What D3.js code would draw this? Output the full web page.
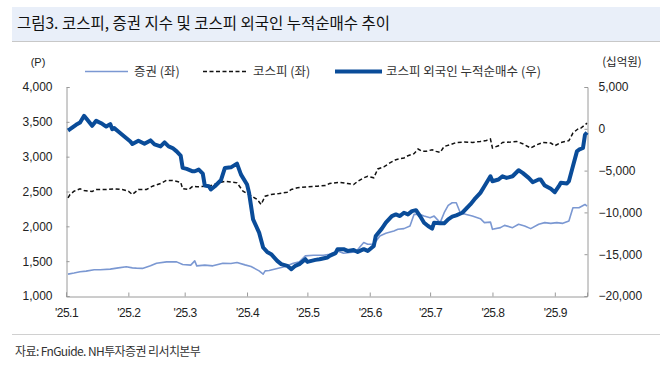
<!DOCTYPE html>
<html>
<head>
<meta charset="utf-8">
<script src="https://cdn.jsdelivr.net/npm/d3@7"></script>
<style>
  body { margin: 0; background: #fff; }
  svg { display: block; }
</style>
</head>
<body>
<svg id="chart" width="670" height="374"></svg>
<script>
// 데이터
const titleText = "그림3. 코스피, 증권 지수 및 코스피 외국인 누적순매수 추이";
const sourceText = "자료: FnGuide. NH투자증권 리서치본부";
const seriesNames = ["증권 (좌)", "코스피 (좌)", "코스피 외국인 누적순매수 (우)"];
const leftTicks = [1000, 1500, 2000, 2500, 3000, 3500, 4000];
const rightTicks = [-20000, -15000, -10000, -5000, 0, 5000];
const monthTicks = ["2025-01-01","2025-02-01","2025-03-01","2025-04-01","2025-05-01",
                    "2025-06-01","2025-07-01","2025-08-01","2025-09-01"];
const monthLabels = ["'25.1","'25.2","'25.3","'25.4","'25.5","'25.6","'25.7","'25.8","'25.9"];

// 증권 지수 (좌)
const secData = [
  ["2025-01-02",1314],["2025-01-05",1329],["2025-01-08",1347],["2025-01-11",1357],["2025-01-15",1376],
  ["2025-01-18",1376],["2025-01-23",1386],["2025-01-27",1404],["2025-01-31",1419],["2025-02-03",1404],
  ["2025-02-05",1400],["2025-02-08",1396],["2025-02-12",1433],["2025-02-15",1471],["2025-02-20",1490],
  ["2025-02-25",1490],["2025-02-28",1453],["2025-03-04",1443],["2025-03-06",1504],["2025-03-07",1433],
  ["2025-03-11",1443],["2025-03-15",1433],["2025-03-20",1471],["2025-03-24",1467],["2025-03-27",1481],
  ["2025-03-31",1447],["2025-04-03",1424],["2025-04-07",1361],["2025-04-09",1314],["2025-04-10",1361],
  ["2025-04-12",1367],["2025-04-16",1396],["2025-04-20",1424],["2025-04-24",1471],["2025-04-27",1490],
  ["2025-04-30",1576],["2025-05-04",1586],["2025-05-09",1586],["2025-05-12",1600],["2025-05-16",1647],
  ["2025-05-19",1614],["2025-05-22",1624],["2025-05-25",1633],["2025-05-29",1767],["2025-05-31",1743],
  ["2025-06-03",1743],["2025-06-06",1861],["2025-06-09",1900],["2025-06-13",1933],["2025-06-15",1957],
  ["2025-06-18",1967],["2025-06-21",2004],["2025-06-23",2171],["2025-06-26",2171],["2025-06-28",2147],
  ["2025-07-01",2124],["2025-07-03",2147],["2025-07-06",2053],["2025-07-08",2196],["2025-07-10",2300],
  ["2025-07-12",2339],["2025-07-14",2339],["2025-07-16",2196],["2025-07-19",2171],["2025-07-22",2147],
  ["2025-07-26",2110],["2025-07-28",2053],["2025-07-31",2061],["2025-08-01",1957],["2025-08-05",1981],
  ["2025-08-07",2014],["2025-08-11",1981],["2025-08-14",2029],["2025-08-17",2004],["2025-08-20",1967],
  ["2025-08-24",2029],["2025-08-27",2053],["2025-08-30",2043],["2025-09-02",2053],["2025-09-05",2043],
  ["2025-09-08",2076],["2025-09-10",2267],["2025-09-13",2267],["2025-09-16",2314],["2025-09-17",2290]
];

// 코스피 (좌)
const kospiData = [
  ["2025-01-02",2410],["2025-01-03",2457],["2025-01-05",2504],["2025-01-08",2539],["2025-01-10",2514],
  ["2025-01-14",2500],["2025-01-16",2529],["2025-01-21",2529],["2025-01-25",2539],["2025-01-29",2529],
  ["2025-02-01",2504],["2025-02-03",2457],["2025-02-06",2529],["2025-02-10",2529],["2025-02-13",2576],
  ["2025-02-17",2614],["2025-02-20",2661],["2025-02-23",2657],["2025-02-27",2633],["2025-02-28",2539],
  ["2025-03-03",2529],["2025-03-05",2576],["2025-03-07",2567],["2025-03-11",2576],["2025-03-14",2586],
  ["2025-03-19",2633],["2025-03-21",2647],["2025-03-25",2633],["2025-03-27",2624],["2025-03-30",2504],
  ["2025-04-02",2457],["2025-04-06",2386],["2025-04-08",2314],["2025-04-10",2433],["2025-04-13",2457],
  ["2025-04-17",2471],["2025-04-21",2490],["2025-04-23",2529],["2025-04-26",2553],["2025-05-01",2567],
  ["2025-05-06",2576],["2025-05-10",2586],["2025-05-12",2614],["2025-05-17",2633],["2025-05-21",2614],
  ["2025-05-24",2600],["2025-05-26",2647],["2025-05-29",2696],["2025-05-31",2719],["2025-06-03",2696],
  ["2025-06-05",2824],["2025-06-08",2853],["2025-06-11",2910],["2025-06-14",2957],["2025-06-18",2981],
  ["2025-06-20",3014],["2025-06-23",3043],["2025-06-25",3110],["2025-06-27",3076],["2025-06-29",3076],
  ["2025-07-02",3100],["2025-07-04",3076],["2025-07-06",3061],["2025-07-08",3147],["2025-07-11",3171],
  ["2025-07-14",3204],["2025-07-18",3210],["2025-07-22",3204],["2025-07-26",3219],["2025-07-29",3233],
  ["2025-07-31",3253],["2025-08-01",3124],["2025-08-04",3157],["2025-08-06",3204],["2025-08-10",3210],
  ["2025-08-13",3219],["2025-08-16",3186],["2025-08-20",3124],["2025-08-23",3171],["2025-08-26",3204],
  ["2025-08-30",3196],["2025-09-01",3157],["2025-09-04",3204],["2025-09-08",3229],["2025-09-10",3339],
  ["2025-09-13",3410],["2025-09-14",3410],["2025-09-16",3457],["2025-09-17",3481]
];

// 코스피 외국인 누적순매수 (우, 십억원)
const foreignData = [
  ["2025-01-02",-200],["2025-01-03",-40],["2025-01-06",480],["2025-01-08",750],["2025-01-10",1550],
  ["2025-01-11",1270],["2025-01-14",360],["2025-01-16",950],["2025-01-19",600],["2025-01-21",270],
  ["2025-01-23",560],["2025-01-24",-40],["2025-01-25",80],["2025-01-27",-320],["2025-01-30",-920],
  ["2025-02-02",-1510],["2025-02-03",-1820],["2025-02-06",-1430],["2025-02-09",-1790],["2025-02-12",-1390],
  ["2025-02-14",-1870],["2025-02-17",-2110],["2025-02-19",-1630],["2025-02-21",-2110],["2025-02-23",-2300],
  ["2025-02-25",-2700],["2025-02-27",-3210],["2025-02-28",-4680],["2025-03-02",-4800],["2025-03-05",-5080],
  ["2025-03-06",-5080],["2025-03-08",-4880],["2025-03-10",-5360],["2025-03-11",-6790],["2025-03-13",-6870],
  ["2025-03-14",-7260],["2025-03-16",-6870],["2025-03-19",-6160],["2025-03-21",-4680],["2025-03-24",-4610],
  ["2025-03-27",-4170],["2025-03-29",-5480],["2025-04-01",-6670],["2025-04-02",-7660],["2025-04-04",-10830],
  ["2025-04-07",-12420],["2025-04-09",-14200],["2025-04-11",-14730],["2025-04-13",-15000],["2025-04-16",-15800],
  ["2025-04-18",-16190],["2025-04-21",-16390],["2025-04-23",-16790],["2025-04-25",-16390],["2025-04-27",-16190],
  ["2025-04-30",-15600],["2025-05-01",-15920],["2025-05-05",-15680],["2025-05-07",-15600],["2025-05-11",-15390],
  ["2025-05-12",-15200],["2025-05-15",-14880],["2025-05-16",-14400],["2025-05-19",-14400],["2025-05-21",-14610],
  ["2025-05-24",-14490],["2025-05-26",-14730],["2025-05-29",-14400],["2025-05-31",-14610],["2025-06-03",-14010],
  ["2025-06-04",-12820],["2025-06-07",-11940],["2025-06-09",-11230],["2025-06-12",-10440],["2025-06-14",-10240],
  ["2025-06-16",-10440],["2025-06-18",-10040],["2025-06-20",-10240],["2025-06-22",-9850],["2025-06-24",-9730],
  ["2025-06-26",-10440],["2025-06-28",-11230],["2025-06-30",-11630],["2025-07-02",-11940],["2025-07-03",-11230],
  ["2025-07-06",-11310],["2025-07-08",-11310],["2025-07-10",-10830],["2025-07-12",-10510],["2025-07-14",-10360],
  ["2025-07-17",-10040],["2025-07-21",-9050],["2025-07-23",-8450],["2025-07-26",-7660],["2025-07-28",-6870],
  ["2025-07-31",-5680],["2025-08-01",-6270],["2025-08-04",-6070],["2025-08-06",-5680],["2025-08-08",-5870],
  ["2025-08-11",-5680],["2025-08-14",-4960],["2025-08-16",-5270],["2025-08-19",-5870],["2025-08-21",-6390],
  ["2025-08-24",-6070],["2025-08-25",-6070],["2025-08-27",-6790],["2025-08-30",-7180],["2025-09-01",-7580],
  ["2025-09-03",-6870],["2025-09-04",-6460],["2025-09-07",-6550],["2025-09-08",-6270],["2025-09-10",-4490],
  ["2025-09-12",-2700],["2025-09-13",-2500],["2025-09-15",-2300],["2025-09-16",-710],["2025-09-17",-440]
];

const parseDate = d3.timeParse("%Y-%m-%d");
const fontKR = "'Noto Sans CJK KR', sans-serif";
const fontNum = "'Liberation Sans', Arial, sans-serif";

const svg = d3.select("#chart");

// 제목 박스
svg.append("rect")
  .attr("x", 12).attr("y", 7)
  .attr("width", 648).attr("height", 34)
  .attr("fill", "#e9eff9");
svg.append("line")
  .attr("x1", 12).attr("x2", 660)
  .attr("y1", 41.5).attr("y2", 41.5)
  .attr("stroke", "#c8c8c8").attr("stroke-width", 1);
svg.append("text")
  .attr("x", 17).attr("y", 29)
  .attr("font-family", fontKR)
  .attr("font-size", 15.5)
  .attr("fill", "#111")
  .text(titleText);

// 스케일
const x = d3.scaleTime()
  .domain([parseDate("2025-01-01"), parseDate("2025-09-17")])
  .range([66, 587]);
const yL = d3.scaleLinear().domain([1000, 4000]).range([296, 87]);
const yR = d3.scaleLinear().domain([-20000, 5000]).range([296, 87]);

const axisColor = "#9a9a9a";

// 왼쪽 축
const gL = svg.append("g")
  .attr("transform", "translate(66.5,0)")
  .call(d3.axisLeft(yL).tickValues(leftTicks).tickSize(-3).tickPadding(14)
        .tickFormat(d3.format(",")));
gL.select(".domain").attr("stroke", axisColor);
gL.selectAll(".tick line").attr("stroke", axisColor);
gL.selectAll(".tick text")
  .attr("font-family", fontNum).attr("font-size", 12).attr("fill", "#222");

// 오른쪽 축
const gR = svg.append("g")
  .attr("transform", "translate(587.5,0)")
  .call(d3.axisRight(yR).tickValues(rightTicks).tickSize(-3).tickPadding(11)
        .tickFormat(d3.format(",")));
gR.select(".domain").attr("stroke", axisColor);
gR.selectAll(".tick line").attr("stroke", axisColor);
gR.selectAll(".tick text")
  .attr("font-family", fontNum).attr("font-size", 12).attr("fill", "#222");

// x 축
const gX = svg.append("g")
  .attr("transform", "translate(0,296.5)")
  .call(d3.axisBottom(x).tickValues(monthTicks.map(parseDate))
        .tickSize(-4).tickPadding(12)
        .tickFormat((d, i) => monthLabels[i]));
gX.select(".domain").attr("stroke", axisColor);
gX.selectAll(".tick line").attr("stroke", axisColor);
gX.selectAll(".tick text")
  .attr("font-family", fontNum).attr("font-size", 12).attr("fill", "#222")
  .attr("letter-spacing", -0.5);

// 단위
svg.append("text")
  .attr("x", 38).attr("y", 66)
  .attr("text-anchor", "middle")
  .attr("font-family", fontNum).attr("font-size", 11).attr("fill", "#222")
  .text("(P)");
svg.append("text")
  .attr("x", 622).attr("y", 66)
  .attr("text-anchor", "middle")
  .attr("font-family", fontKR).attr("font-size", 11.5).attr("fill", "#222")
  .text("(십억원)");

// 라인
const lineL = d3.line().x(d => x(parseDate(d[0]))).y(d => yL(d[1]));
const lineR = d3.line().x(d => x(parseDate(d[0]))).y(d => yR(d[1]));

svg.append("path")
  .datum(secData)
  .attr("d", lineL)
  .attr("fill", "none")
  .attr("stroke", "#7b98d2")
  .attr("stroke-width", 1.6)
  .attr("stroke-linejoin", "round");

svg.append("path")
  .datum(kospiData)
  .attr("d", lineL)
  .attr("fill", "none")
  .attr("stroke", "#111")
  .attr("stroke-width", 1.5)
  .attr("stroke-dasharray", "4,2.5");

svg.append("path")
  .datum(foreignData)
  .attr("d", lineR)
  .attr("fill", "none")
  .attr("stroke", "#0a4c99")
  .attr("stroke-width", 4)
  .attr("stroke-linejoin", "round");

// 범례
const legend = [
  { x1: 85, x2: 128, tx: 134, color: "#7b98d2", w: 1.6, dash: null },
  { x1: 203, x2: 248, tx: 253, color: "#111", w: 1.5, dash: "4,2.5" },
  { x1: 335, x2: 382, tx: 386, color: "#0a4c99", w: 4, dash: null }
];
legend.forEach((l, i) => {
  svg.append("line")
    .attr("x1", l.x1).attr("x2", l.x2)
    .attr("y1", 71.5).attr("y2", 71.5)
    .attr("stroke", l.color).attr("stroke-width", l.w)
    .attr("stroke-dasharray", l.dash);
  svg.append("text")
    .attr("x", l.tx).attr("y", 76)
    .attr("font-family", fontKR).attr("font-size", 12.5).attr("fill", "#333")
    .text(seriesNames[i]);
});

// 하단 구분선과 출처
svg.append("line")
  .attr("x1", 12).attr("x2", 660)
  .attr("y1", 334.5).attr("y2", 334.5)
  .attr("stroke", "#d0d0d0").attr("stroke-width", 1);
svg.append("text")
  .attr("x", 15).attr("y", 356)
  .attr("font-family", fontKR).attr("font-size", 12).attr("fill", "#333")
  .attr("letter-spacing", -0.6)
  .text(sourceText);
</script>
</body>
</html>
